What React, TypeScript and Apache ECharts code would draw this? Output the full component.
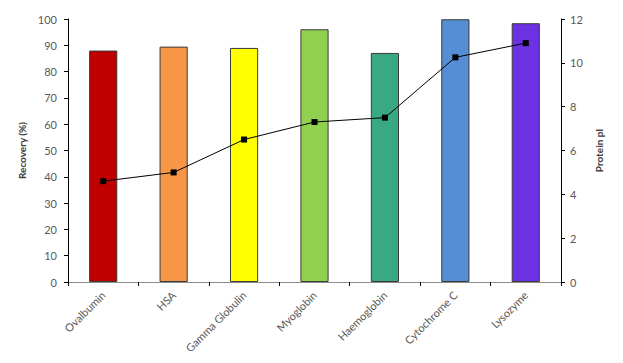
import React, { useEffect, useRef } from "react";
import * as echarts from "echarts";

const categories = ["Ovalbumin", "HSA", "Gamma Globulin", "Myoglobin", "Haemoglobin", "Cytochrome C", "Lysozyme"];
const recovery = [88.0, 89.5, 89.0, 96.1, 87.1, 99.9, 98.4];
const proteinPI = [4.6, 5.0, 6.5, 7.3, 7.5, 10.25, 10.9];
const barColors = ["#C00000", "#F79646", "#FFFF00", "#92D050", "#38A983", "#558ED5", "#6B31E3"];
const leftTicks = { min: 0, max: 100, interval: 10 };
const rightTicks = { min: 0, max: 12, interval: 2 };

const FONT = "Lato, 'Open Sans', sans-serif";

export default function App() {
  const ref = useRef<HTMLDivElement>(null);
  useEffect(() => {
    if (!ref.current) return;
    const chart = echarts.init(ref.current, null, { renderer: "svg" });
    chart.setOption({
      animation: false,
      backgroundColor: "#ffffff",
      textStyle: { fontFamily: FONT },
      grid: { left: 68, right: 62, top: 19, bottom: 81, containLabel: false, outerBoundsMode: "none" },
      xAxis: {
        type: "category",
        data: categories,
        axisLine: { show: true, lineStyle: { color: "#8c8c8c", width: 1 } },
        axisTick: { show: true, alignWithLabel: false, length: 4, lineStyle: { color: "#000" } },
        axisLabel: { rotate: 45, color: "#595959", fontSize: 11, margin: 11, fontFamily: FONT, interval: 0, hideOverlap: false },
        splitLine: { show: false },
      },
      yAxis: [
        {
          type: "value",
          ...leftTicks,
          name: "Recovery (%)",
          nameLocation: "middle",
          nameRotate: 90,
          nameGap: 40,
          nameTextStyle: { color: "#404040", fontWeight: "bold", fontSize: 10, fontFamily: FONT },
          axisLine: { show: true, lineStyle: { color: "#000", width: 1 } },
          axisTick: { show: true, length: 4, lineStyle: { color: "#000" } },
          axisLabel: { color: "#595959", fontSize: 11, margin: 11, fontFamily: FONT },
          splitLine: { show: false },
        },
        {
          type: "value",
          ...rightTicks,
          position: "right",
          name: "Protein pI",
          nameLocation: "middle",
          nameRotate: 90,
          nameGap: 31,
          nameTextStyle: { color: "#404040", fontWeight: "bold", fontSize: 10, fontFamily: FONT },
          axisLine: { show: true, lineStyle: { color: "#000", width: 1 } },
          axisTick: { show: true, length: 4, lineStyle: { color: "#000" } },
          axisLabel: { color: "#595959", fontSize: 11, margin: 9, fontFamily: FONT },
          splitLine: { show: false },
        },
      ],
      series: [
        {
          type: "bar",
          yAxisIndex: 0,
          barWidth: "40%",
          data: recovery.map((v, i) => ({
            value: v,
            itemStyle: { color: barColors[i], borderColor: "#3a3a3a", borderWidth: 1 },
          })),
        },
        {
          type: "line",
          yAxisIndex: 1,
          data: proteinPI,
          symbol: "rect",
          symbolSize: 6,
          lineStyle: { color: "#000", width: 1 },
          itemStyle: { color: "#000" },
          z: 5,
        },
      ],
    });
    return () => chart.dispose();
  }, []);
  return <div ref={ref} style={{ width: 623, height: 363, margin: -8 }} />;
}
